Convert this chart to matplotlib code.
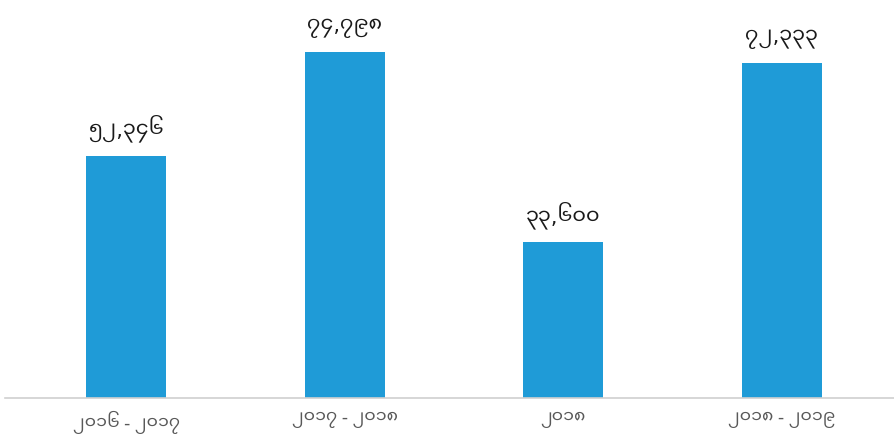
import matplotlib
matplotlib.use("Agg")
import matplotlib.pyplot as plt

categories = ["၂၀၁၆ - ၂၀၁၇", "၂၀၁၇ - ၂၀၁၈", "၂၀၁၈", "၂၀၁၈ - ၂၀၁၉"]
values = [52346, 74798, 33600, 72333]

MY_DIGITS = str.maketrans("0123456789", "၀၁၂၃၄၅၆၇၈၉")
def my_fmt(v):
    return "{:,}".format(v).translate(MY_DIGITS)

plt.rcParams['font.family'] = ['Noto Sans Myanmar UI', 'DejaVu Sans']

fig = plt.figure(figsize=(8.95, 4.43), dpi=100)
ax = fig.add_axes([0.0056, 0.1016, 0.9944, 0.8984])
x = range(len(categories))
bars = ax.bar(x, values, width=0.366, color="#1f9bd7")
ax.set_xlim(-0.555, 3.518)
ax.set_ylim(0, 86000)
for b, v in zip(bars, values):
    ax.annotate(my_fmt(v), (b.get_x() + b.get_width() / 2, v),
                xytext=(0, 10), textcoords="offset points",
                ha="center", va="bottom", fontsize=15, color="#1a1a1a")
ax.set_xticks(list(x))
ax.set_xticklabels(categories, fontsize=12.5, color="#595959")
ax.tick_params(axis="x", length=0, pad=9)
ax.set_yticks([])
for s in ["top", "right", "left"]:
    ax.spines[s].set_visible(False)
ax.spines["bottom"].set_color("#d0d0d0")
ax.spines["bottom"].set_linewidth(1.2)
fig.savefig("out.png", dpi=100)
